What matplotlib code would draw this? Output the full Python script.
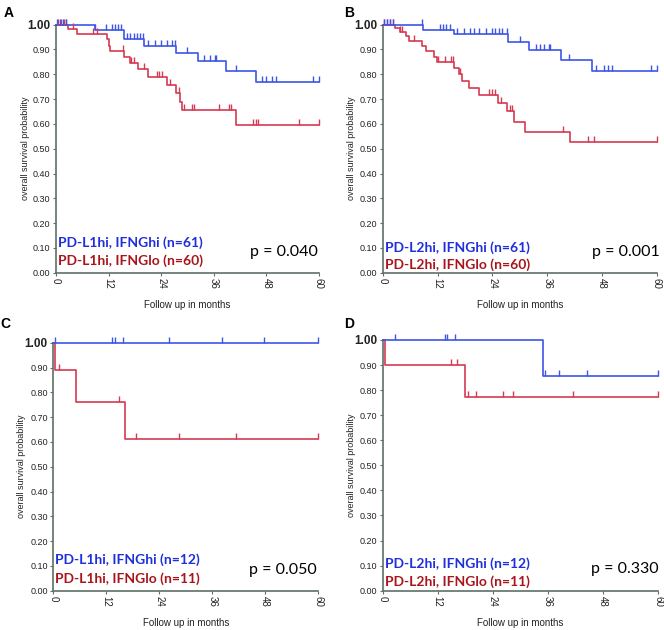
import matplotlib
matplotlib.use("Agg")
import matplotlib.pyplot as plt
import numpy as np

# ---------------- data ----------------
# Panel A
A_hi_times = [8.8, 15.5, 20.1, 27.5, 32.3, 38.9, 45.7]
A_hi_surv = [0.98, 0.94, 0.915, 0.885, 0.853, 0.813, 0.77]
A_hi_cens = [0.3, 0.9, 1.5, 2.2, 8.8, 11.5, 12.7, 13.4, 14.2, 14.8, 16.2, 16.9, 17.7, 18.4,
             19.2, 19.8, 21.1, 22.6, 24.0, 25.3, 26.4, 27.2, 30.0, 33.8, 35.1, 36.3, 36.6,
             41.0, 46.9, 48.0, 49.2, 50.1, 58.6, 60.0]
A_lo_times = [2.7, 4.9, 11.6, 12.0, 12.4, 15.5, 16.8, 18.7, 20.9, 25.4, 27.3, 28.3, 28.7, 41.0]
A_lo_surv = [0.983, 0.96, 0.94, 0.915, 0.893, 0.87, 0.846, 0.82, 0.79, 0.756, 0.726, 0.69,
             0.654, 0.594]
A_lo_cens = [0.5, 1.2, 1.9, 2.4, 3.8, 8.4, 9.3, 15.2, 17.1, 17.8, 20.1, 23.0, 23.6, 24.1, 26.0,
             28.1, 29.2, 31.1, 31.5, 37.2, 39.5, 40.0, 45.0, 45.6, 46.1, 55.4, 60.0]

# Panel B
B_hi_times = [8.8, 15.5, 27.4, 32.1, 39.1, 45.8]
B_hi_surv = [0.98, 0.96, 0.928, 0.897, 0.857, 0.814]
B_hi_cens = [0.3, 0.9, 1.6, 2.3, 8.7, 12.6, 13.2, 13.9, 14.8, 16.3, 17.9, 19.0, 19.9, 21.0,
             22.5, 23.9, 24.6, 25.4, 26.2, 27.2, 30.1, 33.5, 34.5, 35.2, 36.3, 36.7, 40.8,
             46.7, 48.5, 49.4, 50.2, 58.8, 60.0]
B_lo_times = [2.6, 3.8, 5.0, 5.7, 8.5, 9.5, 11.3, 11.9, 15.5, 16.8, 17.4, 18.8, 21.1, 25.2,
              27.2, 28.8, 31.2, 40.9]
B_lo_surv = [0.985, 0.97, 0.953, 0.935, 0.915, 0.893, 0.871, 0.849, 0.824, 0.80, 0.773,
             0.745, 0.717, 0.684, 0.653, 0.608, 0.568, 0.526]
B_lo_cens = [0.4, 0.9, 1.7, 2.2, 3.9, 4.2, 6.8, 12.2, 13.6, 15.0, 15.3, 17.0, 23.2, 23.9,
             24.5, 26.0, 27.9, 28.3, 39.4, 44.9, 46.3, 60.0]

# Panel C
C_hi_times = []
C_hi_surv = []
C_hi_cens = [0.3, 13.4, 14.0, 15.8, 26.1, 38.3, 47.7, 60.0]
C_lo_times = [0.4, 5.2, 16.2]
C_lo_surv = [0.889, 0.762, 0.61]
C_lo_cens = [1.3, 14.8, 18.7, 28.4, 41.3, 60.0]

# Panel D
D_hi_times = [34.9]
D_hi_surv = [0.857]
D_hi_cens = [2.7, 13.5, 13.9, 15.8, 35.4, 38.4, 44.5, 60.0]
D_lo_times = [0.5, 17.9]
D_lo_surv = [0.90, 0.771]
D_lo_cens = [14.9, 16.1, 18.6, 20.4, 26.1, 28.3, 41.4, 60.0]

panel_letters = ["A", "B", "C", "D"]
legend_hi = ["PD-L1hi, IFNGhi (n=61)", "PD-L2hi, IFNGhi (n=61)",
             "PD-L1hi, IFNGhi (n=12)", "PD-L2hi, IFNGhi (n=12)"]
legend_lo = ["PD-L1hi, IFNGlo (n=60)", "PD-L2hi, IFNGlo (n=60)",
             "PD-L1hi, IFNGlo (n=11)", "PD-L2hi, IFNGlo (n=11)"]
p_values = ["p = 0.040", "p = 0.001", "p = 0.050", "p = 0.330"]
x_ticks = [0, 12, 24, 36, 48, 60]
y_ticks = [0.0, 0.1, 0.2, 0.3, 0.4, 0.5, 0.6, 0.7, 0.8, 0.9, 1.0]
y_ticklabels = ["0.00", "0.10", "0.20", "0.30", "0.40", "0.50", "0.60", "0.70", "0.80",
                "0.90", "1.00"]

panels = [
    (A_hi_times, A_hi_surv, A_hi_cens, A_lo_times, A_lo_surv, A_lo_cens),
    (B_hi_times, B_hi_surv, B_hi_cens, B_lo_times, B_lo_surv, B_lo_cens),
    (C_hi_times, C_hi_surv, C_hi_cens, C_lo_times, C_lo_surv, C_lo_cens),
    (D_hi_times, D_hi_surv, D_hi_cens, D_lo_times, D_lo_surv, D_lo_cens),
]

# ---------------- style ----------------
BLUE_LINE = "#3d55e8"
RED_LINE = "#d53a52"
BLUE_TXT = "#1f2fdc"
RED_TXT = "#a8161c"
SPINE = "#5d7166"
NARROW = ["Liberation Sans Narrow", "Liberation Sans", "DejaVu Sans"]
CAL = ["Lato", "DejaVu Sans"]

# axes rectangles [left, bottom, width, height] in figure fraction
rects = [
    [0.0843, 0.567, 0.396, 0.394],
    [0.5763, 0.567, 0.413, 0.394],
    [0.0803, 0.0624, 0.399, 0.3935],
    [0.5763, 0.0624, 0.4150, 0.398],
]
leg_pos = [(0.121, 0.047, 0.085, 0.996), (0.103, 0.032, 0.082, 1.01),
           (0.127, 0.050, 0.083, 0.996), (0.109, 0.036, 0.085, 1.0)]
ylab_x = [-0.100, -0.097, -0.102, -0.096]
letter_pos = [(0.005, 0.99), (0.518, 0.99), (0.0, 0.497), (0.518, 0.497)]

tick_marker = [(0, 0), (0, 1)]

fig = plt.figure(figsize=(6.64, 6.30), dpi=100)


def km_draw(ax, times, surv, cens, color):
    xs = [0.0] + list(times) + [60.0]
    ys = [1.0] + list(surv) + [surv[-1] if surv else 1.0]
    ax.step(xs, ys, where="post", color=color, lw=1.2, clip_on=False, zorder=3)
    xs_arr = np.array(xs)
    ys_arr = np.array(ys)
    cy = []
    for c in cens:
        idx = np.searchsorted(xs_arr[:-1], c, side="right") - 1
        cy.append(ys_arr[max(idx, 0)])
    ax.plot(cens, cy, linestyle="none", marker=tick_marker, markersize=8,
            markeredgewidth=1.0, color=color, clip_on=False, zorder=4)


for i, (rect, data) in enumerate(zip(rects, panels)):
    ax = fig.add_axes(rect)
    hi_t, hi_s, hi_c, lo_t, lo_s, lo_c = data
    km_draw(ax, lo_t, lo_s, lo_c, RED_LINE)
    km_draw(ax, hi_t, hi_s, hi_c, BLUE_LINE)
    ax.set_xlim(0, 60)
    ax.set_ylim(0, 1.0)
    for s in ["top", "right"]:
        ax.spines[s].set_visible(False)
    for s in ["left", "bottom"]:
        ax.spines[s].set_color(SPINE)
        ax.spines[s].set_linewidth(1.2)
    ax.set_xticks(x_ticks)
    ax.set_xticklabels([str(t) for t in x_ticks], rotation=-90, fontsize=7,
                       family=NARROW, color="#222222")
    ax.set_yticks(y_ticks)
    ax.set_yticklabels(y_ticklabels, fontsize=6.5, family=NARROW, color="#222222")
    lbls = ax.get_yticklabels()
    lbls[-1].set_fontweight("bold")
    lbls[-1].set_fontsize(8.5)
    ax.tick_params(axis="both", length=2.5, width=0.8, color=SPINE, pad=1.5)
    ax.set_ylabel("overall survival probability", fontsize=6.5, family=NARROW,
                  color="#222222")
    ax.yaxis.set_label_coords(ylab_x[i], 0.5)
    ax.set_xlabel("Follow up in months", fontsize=7, family=NARROW,
                  color="#222222", labelpad=8)
    y1, y2, yp, xp = leg_pos[i]
    ax.text(0.008, y1, legend_hi[i], transform=ax.transAxes, color=BLUE_TXT,
            fontsize=10, fontweight="bold", family=CAL, va="center", ha="left")
    ax.text(0.008, y2, legend_lo[i], transform=ax.transAxes, color=RED_TXT,
            fontsize=10, fontweight="bold", family=CAL, va="center", ha="left")
    ax.text(xp, yp, p_values[i], transform=ax.transAxes, color="black",
            fontsize=11.5, family=CAL, va="center", ha="right")
    lx, ly = letter_pos[i]
    fig.text(lx, ly, panel_letters[i], fontsize=10, fontweight="bold",
             family=["Liberation Sans", "DejaVu Sans"], va="top", ha="left")

fig.savefig("out.png", dpi=100)
